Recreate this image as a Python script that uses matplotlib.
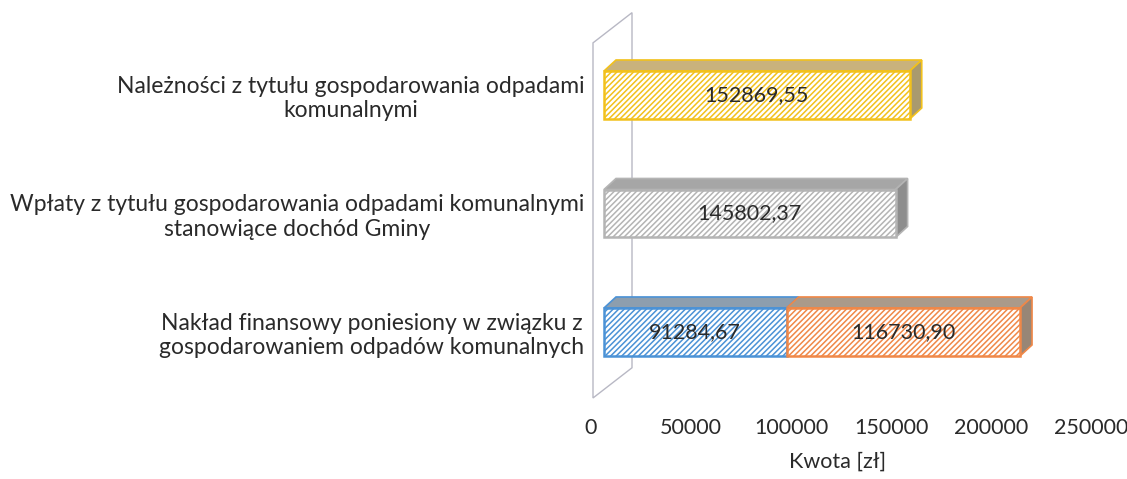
import numpy as np
import matplotlib.pyplot as plt
from matplotlib.patches import Polygon, Rectangle
from matplotlib.transforms import ScaledTranslation

# Data
categories = ['Nakład finansowy poniesiony w związku z\ngospodarowaniem odpadów komunalnych',
              'Wpłaty z tytułu gospodarowania odpadami komunalnymi\nstanowiące dochód Gminy',
              'Należności z tytułu gospodarowania odpadami\nkomunalnymi']
# each row: list of segments (value, label)
segments = [[91284.67, 116730.90],
            [145802.37],
            [152869.55]]
seg_labels = [['91284,67', '116730,90'],
              ['145802,37'],
              ['152869,55']]
xticks = [0, 50000, 100000, 150000, 200000, 250000]

# colours per segment: (edge/hatch, top face, side face)
seg_colors = [[('#4b92d6', '#8d9eae', '#7d8e9e'), ('#f08848', '#aa9a8a', '#988676')],
              [('#b4b4b4', '#a6a6a6', '#8e8e8e')],
              [('#f2c11c', '#c9b27c', '#a99a6e')]]

plt.rcParams['font.family'] = ['Lato', 'DejaVu Sans']
plt.rcParams['hatch.linewidth'] = 1.1

fig = plt.figure(figsize=(11.27, 4.79), dpi=100)
ax = fig.add_axes([604/1127, 79/479, 500/1127, 380/479])
ax.set_xlim(0, 250000)
ax.set_ylim(-0.574, 2.633)

bar_h = 0.405
dx = 6000      # depth in x (data)
dy = 0.093     # depth in y (data)

# back wall (left)
wdx, wdy = 19500, 0.255
wx0 = -5500
wall = Polygon([[wx0, -0.557], [wx0, 2.44], [wx0 + wdx, 2.44 + wdy], [wx0 + wdx, -0.557 + wdy]],
               closed=True, fill=False, edgecolor='#b8b8c4', lw=1.0, clip_on=False, zorder=1)
ax.add_patch(wall)

for i, vals in enumerate(segments):
    left = 0
    y0 = i - bar_h / 2
    y1 = i + bar_h / 2
    for j, v in enumerate(vals):
        edge, top, side = seg_colors[i][j]
        # top face
        ax.add_patch(Polygon([[left, y1], [left + dx, y1 + dy], [left + v + dx, y1 + dy], [left + v, y1]],
                             closed=True, facecolor=top, edgecolor=edge, lw=1.2, zorder=2, clip_on=False))
        # front face
        ax.add_patch(Rectangle((left, y0), v, bar_h, facecolor='white', edgecolor=edge,
                               hatch='//////', lw=1.8, zorder=3, clip_on=False))
        ax.text(left + v / 2, i, seg_labels[i][j], ha='center', va='center',
                fontsize=15.5, color='#2a2a2a', zorder=5)
        left += v
    # side face of the last segment
    ax.add_patch(Polygon([[left, y0], [left + dx, y0 + dy], [left + dx, y1 + dy], [left, y1]],
                         closed=True, facecolor=side, edgecolor=edge, lw=1.2, zorder=2, clip_on=False))

ax.set_yticks([0, 1, 2])
ax.set_yticklabels(categories, fontsize=16.5, color='#2a2a2a', multialignment='center')
ax.tick_params(axis='y', length=0, pad=14)
ax.set_xticks(xticks)
ax.set_xticklabels([str(t) for t in xticks], fontsize=15.5, color='#2a2a2a')
ax.tick_params(axis='x', length=0, pad=13)
# tick labels sit on the front edge of the floor, shifted left by the depth
for lab in ax.get_xticklabels():
    lab.set_transform(lab.get_transform() + ScaledTranslation(-0.13, 0, fig.dpi_scale_trans))
ax.set_xlabel('Kwota [zł]', fontsize=15.5, color='#2a2a2a')
ax.xaxis.set_label_coords(0.468, -0.135)
for s in ax.spines.values():
    s.set_visible(False)
ax.set_facecolor('none')

plt.savefig('out.png', dpi=100)
